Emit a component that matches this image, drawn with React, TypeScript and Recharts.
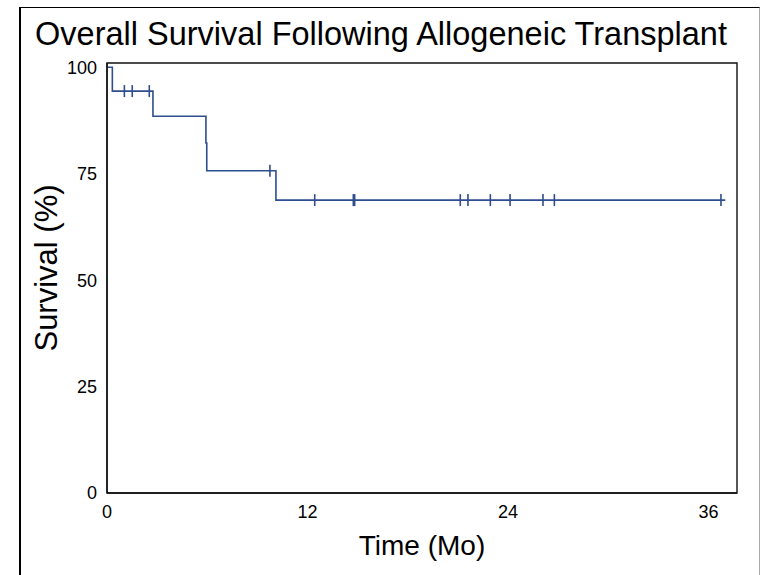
import React from "react";
import { ComposedChart, Line, Scatter, XAxis, YAxis, ReferenceArea } from "recharts";

const stepTimes = [0, 0.32, 2.75, 5.92, 5.97, 10.11, 37.0];
const stepSurvival = [100, 94.4, 88.5, 82.2, 75.7, 68.8, 68.8];

const censorTimes = [1.04, 1.51, 2.53, 9.75, 12.43, 14.74, 14.82, 21.14, 21.6, 22.94, 24.12, 26.09, 26.77, 36.74];
const censorSurvival = [94.4, 94.4, 94.4, 75.7, 68.8, 68.8, 68.8, 68.8, 68.8, 68.8, 68.8, 68.8, 68.8, 68.8];

const xTicks = [0, 12, 24, 36];
const yTicks = [0, 25, 50, 75, 100];

const X_MAX = 37.7;
const Y_MAX = 101;
const LINE = "#2E4E8E";
const FONT = "'Liberation Sans', Arial, sans-serif";

const stepData = stepTimes.map((t, i) => ({ t, s: stepSurvival[i] }));
const censorData = censorTimes.map((t, i) => ({ t, c: censorSurvival[i] }));

const CensorMark = (props: any) => {
  const { cx, cy } = props;
  if (cx == null || cy == null) return null;
  return <line x1={cx} x2={cx} y1={cy - 6} y2={cy + 6} stroke={LINE} strokeWidth={1.6} />;
};

export default function App() {
  return (
    <div style={{ position: "absolute", left: 0, top: 0, width: 761, height: 575, background: "#fff", fontFamily: FONT, overflow: "hidden" }}>
      <div
        style={{
          position: "absolute",
          left: 19,
          top: 7,
          width: 738,
          height: 600,
          borderLeft: "2px solid #000",
          borderTop: "1.5px solid #000",
          borderRight: "1px solid #aaa",
        }}
      />
      <div style={{ position: "absolute", left: 0, width: 762, top: 15, textAlign: "center", fontSize: 32.5, color: "#000", whiteSpace: "nowrap", lineHeight: "38px" }}>
        Overall Survival Following Allogeneic Transplant
      </div>
      <div style={{ position: "absolute", left: 107, width: 630, top: 529, textAlign: "center", fontSize: 28, color: "#000", lineHeight: "34px" }}>
        Time (Mo)
      </div>
      <div
        style={{
          position: "absolute",
          left: 47,
          top: 268,
          transform: "translate(-50%, -50%) rotate(-90deg)",
          fontSize: 31,
          color: "#000",
          whiteSpace: "nowrap",
          lineHeight: "36px",
        }}
      >
        Survival (%)
      </div>
      <div style={{ position: "absolute", left: 0, top: 0 }}>
        <ComposedChart width={761} height={575} margin={{ top: 63, right: 24, bottom: 52, left: 47 }}>
          <XAxis
            dataKey="t"
            type="number"
            domain={[0, X_MAX]}
            ticks={xTicks}
            allowDataOverflow
            tickLine={false}
            axisLine={{ stroke: "#111", strokeWidth: 1.4 }}
            tick={{ fill: "#000", fontSize: 18, fontFamily: FONT }}
            tickMargin={6}
            height={30}
          />
          <YAxis
            type="number"
            domain={[0, Y_MAX]}
            ticks={yTicks}
            allowDataOverflow
            tickLine={false}
            axisLine={{ stroke: "#111", strokeWidth: 1.4 }}
            tick={{ fill: "#000", fontSize: 18, fontFamily: FONT }}
            tickMargin={4}
            width={60}
          />
          <ReferenceArea x1={0} x2={X_MAX} y1={0} y2={Y_MAX} fill="none" fillOpacity={0} stroke="#111" strokeWidth={1.4} ifOverflow="visible" />
          <Line
            data={stepData}
            dataKey="s"
            type="stepAfter"
            stroke={LINE}
            strokeWidth={1.6}
            dot={false}
            isAnimationActive={false}
          />
          <Scatter
            data={censorData}
            dataKey="c"
            shape={CensorMark}
            isAnimationActive={false}
          />
        </ComposedChart>
      </div>
    </div>
  );
}
